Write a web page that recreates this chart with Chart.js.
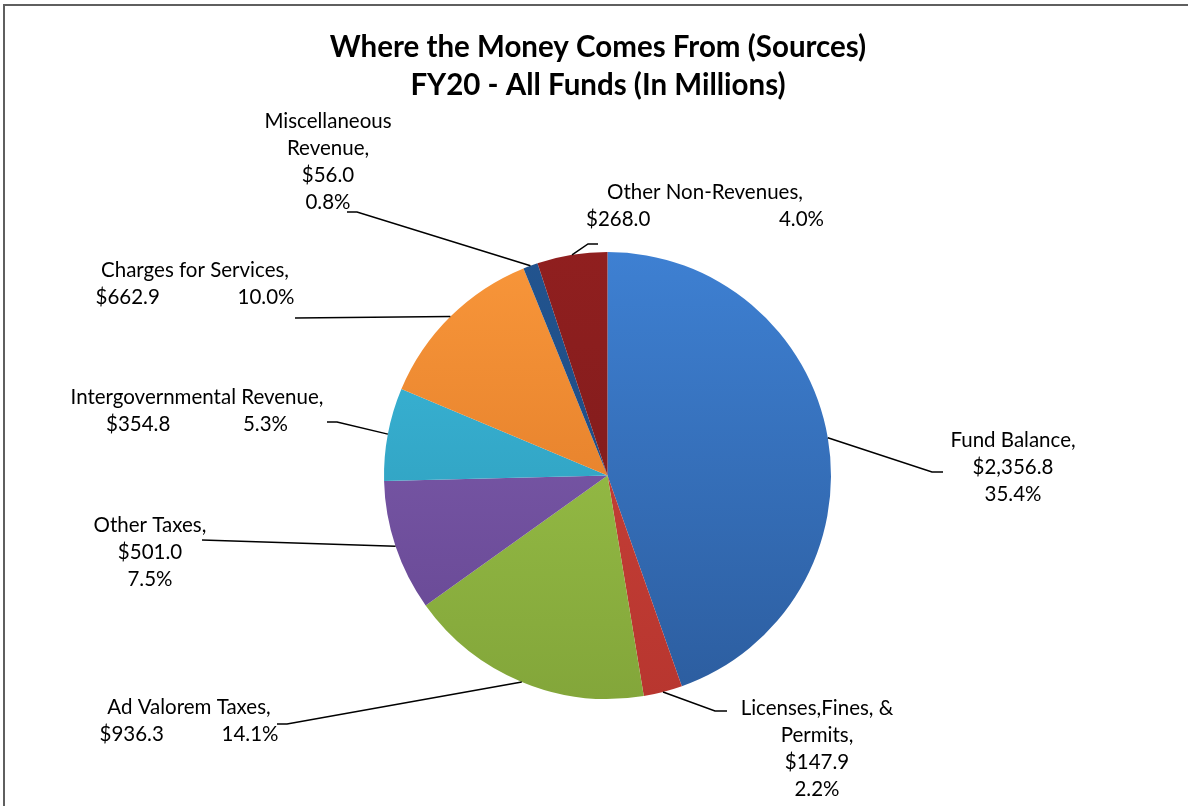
<!DOCTYPE html>
<html>
<head>
<meta charset="utf-8">
<script src="https://cdn.jsdelivr.net/npm/chart.js@4.4.1/dist/chart.umd.min.js"></script>
<style>
  html, body { margin: 0; padding: 0; background: #fff; }
  #wrap { position: relative; width: 1188px; height: 806px; overflow: hidden; }
  #frame {
    position: absolute; left: 3px; top: 4px; width: 1300px; height: 900px;
    border-left: 2px solid #5f5f5f; border-top: 2px solid #5f5f5f;
  }
  canvas { position: absolute; left: 0; top: 0; }
</style>
</head>
<body>
<div id="wrap">
  <div id="frame"></div>
  <canvas id="sourcesChart" width="1188" height="806"></canvas>
</div>
<script>
// Revenue sources, FY20, all funds (in millions)
const categories = ['Fund Balance', 'Licenses,Fines, & Permits', 'Ad Valorem Taxes', 'Other Taxes',
  'Intergovernmental Revenue', 'Charges for Services', 'Miscellaneous Revenue', 'Other Non-Revenues'];
const amounts = [2356.8, 147.9, 936.3, 501.0, 354.8, 662.9, 56.0, 268.0];
const shares = [35.4, 2.2, 14.1, 7.5, 5.3, 10.0, 0.8, 4.0];
const titleLines = ['Where the Money Comes From (Sources)', 'FY20 - All Funds (In Millions)'];

// slice shading, lighter at the top of the pie, darker at the bottom
const lightColors = ['#3e80d2', '#cc443b', '#a0c94c', '#8260b2', '#3bbadd', '#f8963a', '#22548f', '#901f1f'];
const darkColors = ['#2c5d9f', '#b8362f', '#83a63a', '#654691', '#2b93b0', '#d97322', '#1b467c', '#781a1a'];

// where each label sits, how the name wraps, and the leader line bend/tip
const labelSpots = [
  { x: 1013, y: 440, words: [2], split: 0, bend: [932, 472], tip: [943, 472] },
  { x: 817, y: 708, words: [2, 1], split: 0, bend: [715, 711], tip: [727, 711] },
  { x: 189, y: 707, words: [3], split: 179, bend: [287, 724], tip: [277, 724] },
  { x: 150, y: 525, words: [2], split: 0, bend: [202, 540], tip: [202, 540] },
  { x: 197, y: 397, words: [2], split: 182, bend: [337, 422], tip: [327, 422] },
  { x: 195, y: 270, words: [3], split: 199, bend: [295, 318], tip: [295, 318] },
  { x: 328, y: 121, words: [1, 1], split: 0, bend: [357, 212], tip: [347, 212] },
  { x: 705, y: 192, words: [2], split: 238, bend: [588, 244], tip: [598, 244] }
];

const labelFont = '20.5px Lato';
const lineGap = 27;

function money(v) {
  return '$' + v.toLocaleString('en-US', { minimumFractionDigits: 1, maximumFractionDigits: 1 });
}

function nameLines(name, words) {
  const parts = name.split(' ');
  const out = [];
  let k = 0;
  words.forEach(n => {
    out.push(parts.slice(k, k + n).join(' '));
    k += n;
  });
  out[out.length - 1] += ',';
  return out;
}

function sliceFill(context) {
  const chart = context.chart;
  const area = chart.chartArea;
  const i = context.dataIndex;
  if (!area) return lightColors[i];
  const g = chart.ctx.createLinearGradient(0, area.top, 0, area.bottom);
  g.addColorStop(0, lightColors[i]);
  g.addColorStop(1, darkColors[i]);
  return g;
}

const calloutPlugin = {
  id: 'callouts',
  afterDatasetsDraw(chart) {
    const ctx = chart.ctx;
    const arcs = chart.getDatasetMeta(0).data;
    ctx.save();

    // leader lines from the middle of each slice's rim
    ctx.strokeStyle = '#000';
    ctx.lineWidth = 1.5;
    arcs.forEach((arc, i) => {
      const spot = labelSpots[i];
      const mid = (arc.startAngle + arc.endAngle) / 2;
      const sx = arc.x + Math.cos(mid) * arc.outerRadius;
      const sy = arc.y + Math.sin(mid) * arc.outerRadius;
      ctx.beginPath();
      ctx.moveTo(sx, sy);
      ctx.lineTo(spot.bend[0], spot.bend[1]);
      ctx.lineTo(spot.tip[0], spot.tip[1]);
      ctx.stroke();
    });

    // label text
    ctx.fillStyle = '#000';
    ctx.font = labelFont;
    ctx.textBaseline = 'middle';
    arcs.forEach((arc, i) => {
      const spot = labelSpots[i];
      const lines = nameLines(categories[i], spot.words);
      let y = spot.y;
      ctx.textAlign = 'center';
      lines.forEach(t => {
        ctx.fillText(t, spot.x, y);
        y += lineGap;
      });
      const val = money(amounts[i]);
      const pct = shares[i].toFixed(1) + '%';
      if (spot.split) {
        ctx.textAlign = 'left';
        ctx.fillText(val, spot.x - spot.split / 2, y);
        ctx.textAlign = 'right';
        ctx.fillText(pct, spot.x + spot.split / 2, y);
      } else {
        ctx.fillText(val, spot.x, y);
        ctx.fillText(pct, spot.x, y + lineGap);
      }
    });

    // title
    ctx.textAlign = 'center';
    ctx.font = 'bold 29.5px Lato';
    ctx.fillText(titleLines[0], 598, 47);
    ctx.fillText(titleLines[1], 598, 85);
    ctx.restore();
  }
};

new Chart(document.getElementById('sourcesChart'), {
  type: 'pie',
  data: {
    labels: categories,
    datasets: [{
      data: amounts,
      backgroundColor: sliceFill,
      borderWidth: 0,
      hoverOffset: 0
    }]
  },
  options: {
    responsive: false,
    animation: false,
    events: [],
    layout: { padding: { top: 252, left: 384, right: 357, bottom: 107 } },
    plugins: {
      legend: { display: false },
      tooltip: { enabled: false },
      title: { display: false }
    }
  },
  plugins: [calloutPlugin]
});
</script>
</body>
</html>
